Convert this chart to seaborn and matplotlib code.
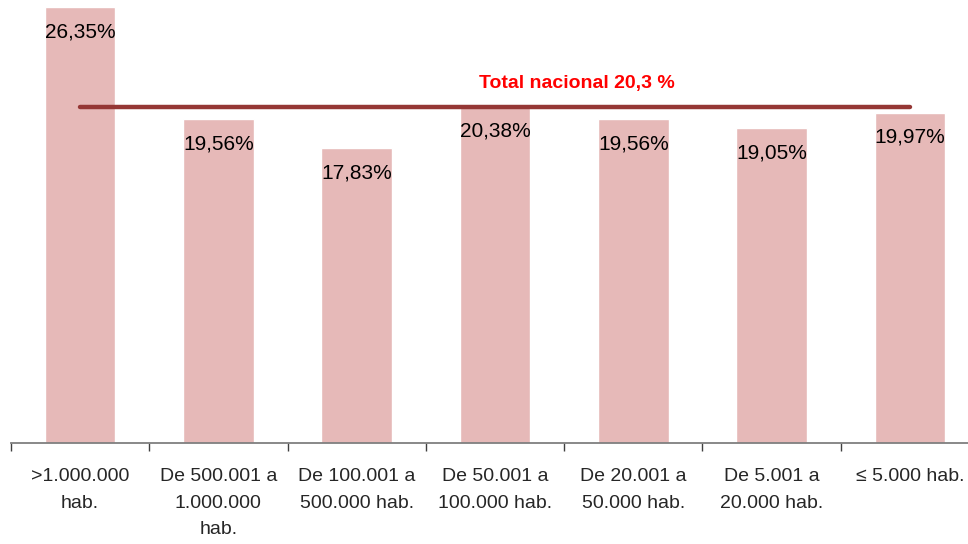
import matplotlib
matplotlib.use('Agg')
import matplotlib.pyplot as plt
import seaborn as sns
import pandas as pd

categorias = ['>1.000.000\nhab.', 'De 500.001 a\n1.000.000\nhab.', 'De 100.001 a\n500.000 hab.',
              'De 50.001 a\n100.000 hab.', 'De 20.001 a\n50.000 hab.', 'De 5.001 a\n20.000 hab.',
              '≤ 5.000 hab.']
valores = [26.35, 19.56, 17.83, 20.38, 19.56, 19.05, 19.97]
total_nacional = 20.3
etiquetas = ['26,35%', '19,56%', '17,83%', '20,38%', '19,56%', '19,05%', '19,97%']

sns.set_style('white')
plt.rcParams['font.family'] = ['Liberation Sans', 'DejaVu Sans']

df = pd.DataFrame({'cat': categorias, 'valor': valores})

fig = plt.figure(figsize=(9.68, 5.44), dpi=100)
# axis runs off the right edge of the picture like the original
ax = fig.add_axes([11 / 968, (544 - 443) / 544, 968 / 968, 436 / 544])
sns.barplot(data=df, x='cat', y='valor', color='#E6B9B8', saturation=1, width=0.51, ax=ax)
ax.set_xlim(-0.5, 6.5)
ax.set_ylim(0, 26.35)

for i, (v, lab) in enumerate(zip(valores, etiquetas)):
    ax.annotate(lab, (i, v), xytext=(0, -11), textcoords='offset points',
                ha='center', va='top', fontsize=15, color='black')

# total line
ax.plot([0, 6], [total_nacional, total_nacional], color='#953735', lw=3.2,
        solid_capstyle='round', zorder=5)
ax.text(3.59, total_nacional + 1.4, 'Total nacional 20,3 %', color='#FF0000',
        fontsize=14, fontweight='bold', ha='center', va='center')

for s in ['top', 'right', 'left']:
    ax.spines[s].set_visible(False)
ax.spines['bottom'].set_color('#7F7F7F')
ax.spines['bottom'].set_linewidth(1.3)
ax.set_yticks([])
ax.set_xlabel('')
ax.set_ylabel('')
ax.set_xticks(range(7))
ax.set_xticklabels(categorias, fontsize=14, linespacing=1.75)
ax.set_xticks([i - 0.5 for i in range(8)], minor=True)
ax.tick_params(axis='x', which='major', length=0, pad=18)
ax.tick_params(axis='x', which='minor', length=6, width=1, color='#404040', direction='out', bottom=True)

plt.savefig('out.png', dpi=100)
